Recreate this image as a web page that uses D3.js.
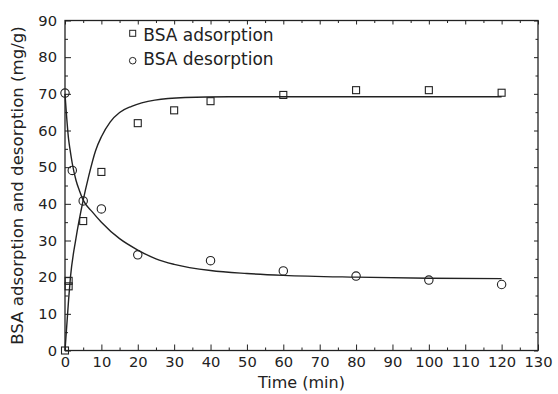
<!DOCTYPE html>
<html>
<head>
<meta charset="utf-8">
<script src="https://cdn.jsdelivr.net/npm/d3@7"></script>
<style>
  body { margin: 0; background: #fff; }
  svg { display: block; }
  text { font-family: "DejaVu Sans", sans-serif; fill: #222; }
</style>
</head>
<body>
<div id="chart"></div>
<script>
// measured points
const adsTime  = [0, 1, 1, 5, 10, 20, 30, 40, 60, 80, 100, 120];
const adsValue = [0, 19, 17.5, 35.3, 48.7, 62, 65.5, 68, 69.7, 71, 71, 70.3];
const desTime  = [0, 2, 5, 10, 20, 40, 60, 80, 100, 120];
const desValue = [70.2, 49.1, 40.8, 38.6, 26.1, 24.5, 21.7, 20.3, 19.2, 18.0];

// fitted curves
const adsFitTime  = [0, 1, 1.5, 3, 5, 6.5, 8.4, 10, 12.4, 15, 18.3, 24.7, 33, 45, 60, 120];
const adsFitValue = [0, 14, 20, 30.5, 41, 47.5, 54.5, 58.3, 62.3, 64.9, 66.6, 68.3, 69, 69.2, 69.2, 69.2];
const desFitTime  = [0, 1, 1.4, 2, 3, 4, 5, 7.5, 10, 15, 20, 25, 30, 40, 50, 60, 80, 100, 120];
const desFitValue = [70, 57.5, 54.7, 51, 46.5, 43.5, 41, 37.8, 35, 30.5, 27.4, 25, 23.5, 21.8, 21, 20.5, 20, 19.7, 19.6];

const xTicks = d3.range(0, 131, 10);
const yTicks = d3.range(0, 91, 10);
const legendLabels = ["BSA adsorption", "BSA desorption"];

let margin = {top: 20.5, right: 20, bottom: 43.5, left: 65},
    width = 558 - margin.left - margin.right,
    height = 394 - margin.top - margin.bottom;

const svg = d3.select("#chart").append("svg")
    .attr("width", 558)
    .attr("height", 394)
  .append("g")
    .attr("transform", `translate(${margin.left},${margin.top})`);

const xScale = d3.scaleLinear().domain([0, 130]).range([0, width]);
const yScale = d3.scaleLinear().domain([0, 90]).range([height, 0]);

const xMinor = d3.range(5, 130, 10);
const yMinor = d3.range(5, 90, 10);

// axes, ticks pointing inwards
function styleAxis(g) {
    g.select(".domain").remove();
    g.selectAll("line").attr("stroke", "#222");
    g.selectAll("text").attr("font-size", 14.7).attr("fill", "#222")
        .style("font-family", "DejaVu Sans, sans-serif");
}

svg.append("g").attr("transform", `translate(0,${height})`)
    .call(d3.axisBottom(xScale).tickValues(xTicks).tickSize(-6).tickSizeOuter(0).tickPadding(6))
    .call(styleAxis);
svg.append("g").attr("transform", `translate(0,${height})`)
    .call(d3.axisBottom(xScale).tickValues(xMinor).tickSize(-3).tickFormat(""))
    .call(styleAxis);
svg.append("g")
    .call(d3.axisLeft(yScale).tickValues(yTicks).tickSize(-6).tickSizeOuter(0).tickPadding(8))
    .call(styleAxis);
svg.append("g")
    .call(d3.axisLeft(yScale).tickValues(yMinor).tickSize(-3).tickFormat(""))
    .call(styleAxis);

// mirrored ticks on top and right
svg.append("g")
    .call(d3.axisTop(xScale).tickValues(xTicks).tickSize(-4).tickFormat(""))
    .call(styleAxis);
svg.append("g")
    .call(d3.axisTop(xScale).tickValues(xMinor).tickSize(-2.5).tickFormat(""))
    .call(styleAxis);
svg.append("g").attr("transform", `translate(${width},0)`)
    .call(d3.axisRight(yScale).tickValues(yTicks).tickSize(-4).tickFormat(""))
    .call(styleAxis);
svg.append("g").attr("transform", `translate(${width},0)`)
    .call(d3.axisRight(yScale).tickValues(yMinor).tickSize(-2.5).tickFormat(""))
    .call(styleAxis);

// frame
svg.append("rect")
    .attr("width", width).attr("height", height)
    .attr("fill", "none").attr("stroke", "#222").attr("stroke-width", 1.3);

// fitted lines
const line = d3.line()
    .x(d => xScale(d[0]))
    .y(d => yScale(d[1]))
    .curve(d3.curveMonotoneX);

svg.append("path")
    .datum(adsFitTime.map((t, i) => [t, adsFitValue[i]]))
    .attr("d", line)
    .attr("fill", "none").attr("stroke", "#222").attr("stroke-width", 1.4);

svg.append("path")
    .datum(desFitTime.map((t, i) => [t, desFitValue[i]]))
    .attr("d", line)
    .attr("fill", "none").attr("stroke", "#222").attr("stroke-width", 1.4);

// points
const sq = 7;
svg.append("g").selectAll("rect")
    .data(adsTime.map((t, i) => [t, adsValue[i]]))
    .join("rect")
        .attr("x", d => xScale(d[0]) - sq / 2)
        .attr("y", d => yScale(d[1]) - sq / 2)
        .attr("width", sq).attr("height", sq)
        .attr("fill", "none").attr("stroke", "#222").attr("stroke-width", 1.1);

svg.append("g").selectAll("circle")
    .data(desTime.map((t, i) => [t, desValue[i]]))
    .join("circle")
        .attr("cx", d => xScale(d[0]))
        .attr("cy", d => yScale(d[1]))
        .attr("r", 4.2)
        .attr("fill", "none").attr("stroke", "#222").attr("stroke-width", 1.1);

// axis titles
svg.append("text")
    .attr("x", width / 2)
    .attr("y", height + 37.5)
    .attr("text-anchor", "middle")
    .attr("font-size", 16)
    .text("Time (min)");

svg.append("text")
    .attr("transform", "rotate(-90)")
    .attr("x", -height / 2)
    .attr("y", -42)
    .attr("text-anchor", "middle")
    .attr("font-size", 16.6)
    .text("BSA adsorption and desorption (mg/g)");

// legend
const legend = svg.append("g").attr("transform", "translate(67.7,12.8)");
legend.append("rect").attr("x", -3).attr("y", -3).attr("width", 6).attr("height", 6)
    .attr("fill", "none").attr("stroke", "#222").attr("stroke-width", 1);
legend.append("circle").attr("cx", 0).attr("cy", 27.4).attr("r", 3.3)
    .attr("fill", "none").attr("stroke", "#222").attr("stroke-width", 1);
legend.append("text").attr("x", 10.6).attr("y", 7.2).attr("font-size", 17).text(legendLabels[0]);
legend.append("text").attr("x", 10.6).attr("y", 32.2).attr("font-size", 17).text(legendLabels[1]);
</script>
</body>
</html>
